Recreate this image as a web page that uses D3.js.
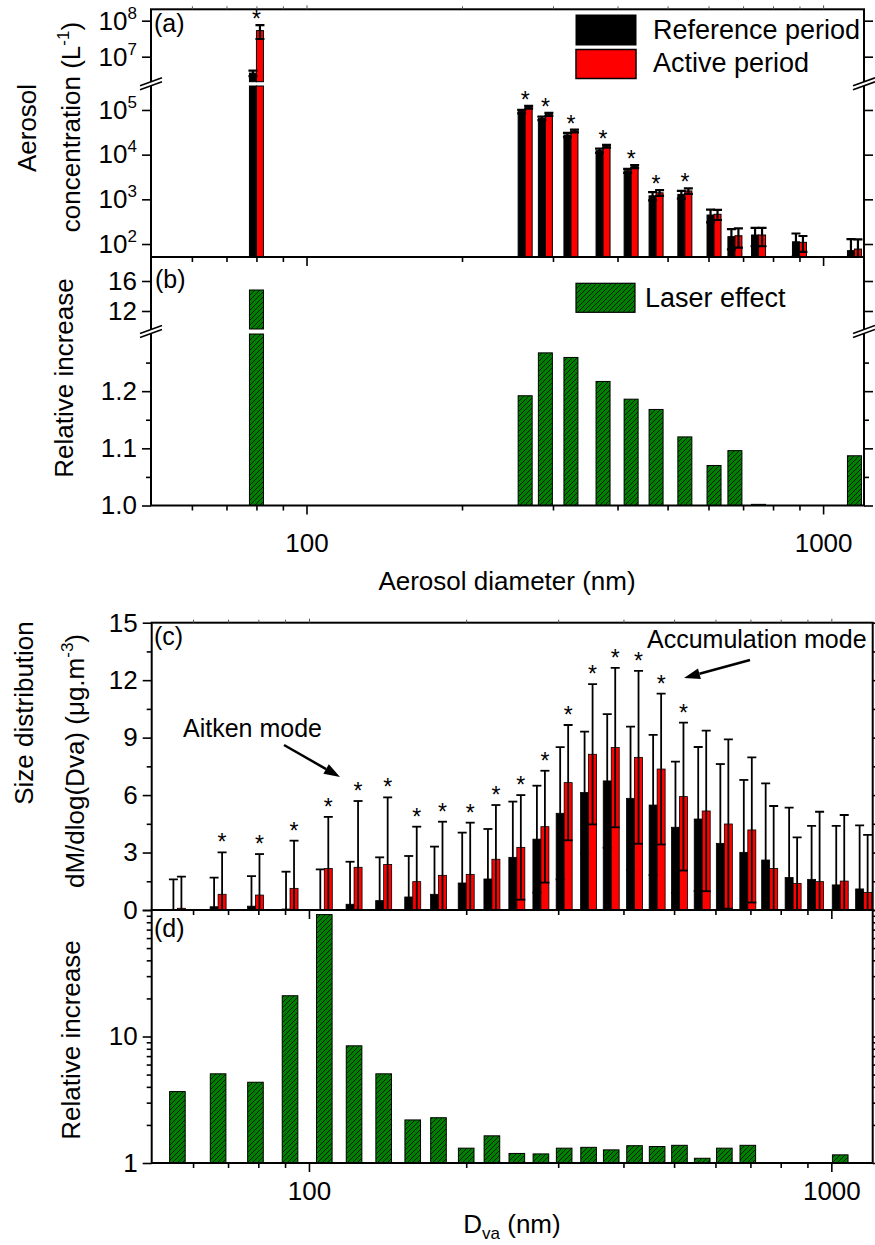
<!DOCTYPE html>
<html><head><meta charset="utf-8">
<script src="https://cdn.jsdelivr.net/npm/d3@7"></script>
<style>body{margin:0;background:#fff} svg text{font-family:"Liberation Sans",Arial,sans-serif;fill:#000}</style>
</head><body>
<svg id="chart" width="875" height="1245"></svg>
<script>
// ---------------- DATA ----------------
// Panels (a)/(b): number concentration by diameter
const sizesA   = [80, 265, 290, 325, 375, 425, 475, 540, 615, 675, 750, 900, 1150];
const refA     = [3.5e6, 9.2e4, 6.5e4, 2.76e4, 1.23e4, 4370, 1200, 1290, 446, 146, 159, 112, 71];
const actA     = [5.3e7, 1.15e5, 8.0e4, 3.4e4, 1.55e4, 5400, 1400, 1540, 462, 153, 159, 109, 77];
const refSdA   = [6e5, 8000, 6000, 3000, 1300, 450, 250, 250, 140, 70, 70, 60, 57];
const actSdA   = [2.2e7, 8000, 6000, 2500, 1100, 400, 200, 220, 117, 70, 70, 42, 50];
const starA    = [true, true, true, true, true, true, true, true, false, false, false, false, false];
const relA     = [14.8, 1.192, 1.267, 1.259, 1.217, 1.186, 1.168, 1.12, 1.07, 1.096, 1.002, null, 1.087];
const yTicksAhi = [1e7, 1e8];
const yTicksAlo = [1e2, 1e3, 1e4, 1e5];
const yTicksBhi = [12, 16];
const yTicksBlo = [1.0, 1.1, 1.2];
const yMinorBlo = [1.05, 1.15, 1.25];

// Panels (c)/(d): mass size distribution
const sizesC  = [56, 67, 79, 92, 107, 122, 139, 158, 177, 200, 224, 250, 278, 308, 343, 379, 420, 464, 512, 566, 624, 692, 762, 845, 933, 1040, 1153];
const refC    = [0.03, 0.17, 0.2, 0.05, 0.02, 0.3, 0.49, 0.68, 0.82, 1.41, 1.62, 2.75, 3.7, 5.05, 6.13, 6.74, 5.83, 5.48, 4.32, 4.75, 3.48, 3.01, 2.61, 1.7, 1.6, 1.31, 1.1];
const actC    = [0.09, 0.82, 0.78, 1.13, 2.17, 2.23, 2.38, 1.48, 1.81, 1.86, 2.65, 3.27, 4.35, 6.65, 8.13, 8.48, 7.97, 7.36, 5.92, 5.17, 4.49, 4.18, 2.17, 1.39, 1.48, 1.51, 0.92];
const refSdC  = [1.57, 1.52, 1.57, 1.95, 2.1, 2.22, 2.26, 2.14, 2.49, 2.63, 2.61, 2.91, 2.79, 3.45, 3.18, 3.49, 3.74, 3.66, 3.43, 3.76, 4.14, 3.78, 4.0, 3.64, 2.79, 3.08, 3.32];
const actSdC  = [1.65, 2.19, 2.14, 2.49, 2.69, 3.46, 3.5, 2.87, 2.8, 2.7, 2.83, 2.73, 2.92, 3.01, 3.66, 4.16, 4.51, 3.94, 3.86, 4.19, 4.42, 3.79, 3.26, 2.4, 3.65, 3.45, 3.0];
const starC   = [false, true, true, true, true, true, true, true, true, true, true, true, true, true, true, true, true, true, true, false, false, false, false, false, false, false, false];
const relC    = [3.67, 5.07, 4.35, 21.0, 92, 8.44, 5.07, 2.19, 2.28, 1.31, 1.64, 1.19, 1.18, 1.31, 1.33, 1.27, 1.37, 1.35, 1.38, 1.09, 1.31, 1.38, null, null, null, 1.16, null];
const yTicksC = [0, 3, 6, 9, 12, 15];
const yMinorC = [1.5, 4.5, 7.5, 10.5, 13.5];
const yTicksD = [1, 10, 100];
const xMajor  = [100, 1000];
const xMinor  = [60, 70, 80, 90, 200, 300, 400, 500, 600, 700, 800, 900];

// ---------------- SETUP ----------------
const svg = d3.select("#chart");
const defs = svg.append("defs");
const pat = defs.append("pattern").attr("id", "hatch").attr("patternUnits", "userSpaceOnUse")
  .attr("width", 5).attr("height", 5);
pat.append("rect").attr("width", 5).attr("height", 5).attr("fill", "#008000");
pat.append("path").attr("d", "M-1,1 L1,-1 M0,5 L5,0 M4,6 L6,4").attr("stroke", "#000").attr("stroke-width", 0.8);
function clip(id, x0, y0, x1, y1) {
  defs.append("clipPath").attr("id", id).append("rect")
    .attr("x", x0).attr("y", y0).attr("width", x1 - x0).attr("height", y1 - y0);
}
const FS = 26;

// ---------- top figure geometry ----------
const L1 = 151, R1 = 864, aTop = 9.3, aBot = 257, bBot = 505.5;
const xTop = d3.scaleLog().domain([50, 1200]).range([L1, R1]);
const yAhi = d3.scaleLog().domain([2.02e6, 2.07e8]).range([81.7, aTop]);
const yAlo = d3.scaleLog().domain([51.2, 3.44e5]).range([aBot, 86]);
const yBhi = d3.scaleLinear().domain([9.6, 19.2]).range([329, aBot]);
const yBlo = d3.scaleLinear().domain([1.0, 1.30]).range([bBot, 334]);
clip("clipA", L1, aTop, R1, aBot);
clip("clipB", L1, aBot, R1, bBot);

// ---------- bottom figure geometry ----------
const L2 = 151.7, R2 = 872.7, cTop = 622.7, cBot = 910, dBot = 1163;
const xBot = d3.scaleLog().domain([50, 1200]).range([L2, R2]);
const yC = d3.scaleLinear().domain([0, 15]).range([cBot, cTop]);
const yD = d3.scaleLog().domain([1, 100]).range([dBot, cBot]);
clip("clipC", L2, cTop, R2, cBot);
clip("clipD", L2, cBot, R2, dBot);

function yMapper(lo, hi) {
  return v => (v <= lo.domain()[1] ? lo(v) : hi(v));
}
function brokenBar(g, x0, w, v, lo, hi, fill, sw) {
  const loMax = lo.domain()[1], hiMin = hi.domain()[0], base = lo.range()[0];
  const vt = Math.min(v, loMax);
  g.append("rect").attr("x", x0).attr("width", w).attr("y", lo(vt)).attr("height", base - lo(vt))
    .attr("fill", fill).attr("stroke", "#000").attr("stroke-width", sw);
  if (v > hiMin) {
    g.append("rect").attr("x", x0).attr("width", w).attr("y", hi(v)).attr("height", hi.range()[0] - hi(v))
      .attr("fill", fill).attr("stroke", "#000").attr("stroke-width", sw);
  }
}
function errBar(g, cx, yLo, yHi, capW, sw) {
  g.append("line").attr("x1", cx).attr("x2", cx).attr("y1", yLo).attr("y2", yHi).attr("stroke", "#000").attr("stroke-width", sw);
  g.append("line").attr("x1", cx - capW / 2).attr("x2", cx + capW / 2).attr("y1", yHi).attr("y2", yHi).attr("stroke", "#000").attr("stroke-width", sw);
  g.append("line").attr("x1", cx - capW / 2).attr("x2", cx + capW / 2).attr("y1", yLo).attr("y2", yLo).attr("stroke", "#000").attr("stroke-width", sw);
}
function star(g, cx, cy, fs) {
  g.append("text").attr("x", cx).attr("y", cy + fs * 0.57).attr("text-anchor", "middle")
    .attr("font-size", fs).text("*");
}
function styleAxis(g, fs) {
  g.select(".domain").remove();
  g.selectAll(".tick line").attr("stroke", "#000").attr("stroke-width", 1.6);
  g.selectAll(".tick text").attr("font-size", fs).attr("fill", "#000")
    .attr("font-family", '"Liberation Sans", Arial, sans-serif');
}
function sup10(g) {
  g.selectAll(".tick text").each(function (d) {
    const e = Math.round(Math.log10(d));
    const t = d3.select(this);
    t.text(null);
    t.append("tspan").text("10");
    t.append("tspan").attr("font-size", 17).attr("dy", -11).text(e);
  });
}
function yAxisSet(x, scale, major, minor, fmt, right, labels) {
  const maj = (right ? d3.axisRight(scale) : d3.axisLeft(scale)).tickValues(major).tickSize(9).tickPadding(5)
    .tickFormat(labels ? fmt : () => "");
  const gM = svg.append("g").attr("transform", `translate(${x},0)`).call(maj);
  styleAxis(gM, FS);
  if (minor && minor.length) {
    const mn = (right ? d3.axisRight(scale) : d3.axisLeft(scale)).tickValues(minor).tickSize(5).tickFormat(() => "");
    const gm = svg.append("g").attr("transform", `translate(${x},0)`).call(mn);
    styleAxis(gm, FS);
  }
  return gM;
}
function xAxisSet(y, scale, labels, pad, up) {
  const mk = s => (up ? d3.axisTop(scale) : d3.axisBottom(scale));
  const gM = svg.append("g").attr("transform", `translate(0,${y})`)
    .call(mk().tickValues(xMajor).tickSize(up ? 4 : 9).tickPadding(pad).tickFormat(labels ? d3.format("d") : () => ""));
  styleAxis(gM, FS);
  const gm = svg.append("g").attr("transform", `translate(0,${y})`)
    .call(mk().tickValues(xMinor).tickSize(up ? 3 : 5).tickFormat(() => ""));
  styleAxis(gm, FS);
  if (up) { gM.selectAll("line").attr("stroke-width", 1).attr("stroke", "#555"); gm.selectAll("line").attr("stroke-width", 1).attr("stroke", "#555"); }
}
function breakMark(x, yb) {
  const g = svg.append("g");
  g.append("polygon").attr("points", `${x - 11},${yb + 2} ${x + 11},${yb - 6} ${x + 11},${yb - 2} ${x - 11},${yb + 6}`)
    .attr("fill", "#fff");
  g.append("line").attr("x1", x - 11).attr("y1", yb + 2).attr("x2", x + 11).attr("y2", yb - 6).attr("stroke", "#000").attr("stroke-width", 1.6);
  g.append("line").attr("x1", x - 11).attr("y1", yb + 6).attr("x2", x + 11).attr("y2", yb - 2).attr("stroke", "#000").attr("stroke-width", 1.6);
}

// ================= PANEL (a) =================
const gA = svg.append("g").attr("clip-path", "url(#clipA)");
const yAm = yMapper(yAlo, yAhi);
const wA = 7;
sizesA.forEach((d, i) => {
  const cx = xTop(d);
  brokenBar(gA, cx - wA, wA, refA[i], yAlo, yAhi, "#000", 1);
  brokenBar(gA, cx, wA, actA[i], yAlo, yAhi, "#ff0000", 1);
});
sizesA.forEach((d, i) => {
  const cx = xTop(d);
  [[cx - wA / 2, refA[i], refSdA[i]], [cx + wA / 2, actA[i], actSdA[i]]].forEach(([x, v, s]) => {
    const lo = v - s > yAlo.domain()[0] ? yAm(v - s) : aBot + 20;
    errBar(gA, x, lo, yAm(v + s), 9, 2.2);
  });
  if (starA[i]) star(svg, cx, yAm(actA[i] + actSdA[i]) - 11, 23);
});
svg.append("rect").attr("x", L1).attr("y", aTop).attr("width", R1 - L1).attr("height", aBot - aTop)
  .attr("fill", "none").attr("stroke", "#000").attr("stroke-width", 2);
const gAy1 = yAxisSet(L1, yAhi, yTicksAhi, [], null, false, true); sup10(gAy1);
const gAy2 = yAxisSet(L1, yAlo, yTicksAlo, [], null, false, true); sup10(gAy2);
yAxisSet(R1, yAhi, yTicksAhi, [], null, true, false);
yAxisSet(R1, yAlo, yTicksAlo, [], null, true, false);
xAxisSet(aBot, xTop, false, 0, false);
xAxisSet(aTop, xTop, false, 0, true);
breakMark(L1, 83.8); breakMark(R1, 83.8);

// legend (a)
svg.append("rect").attr("x", 576).attr("y", 15).attr("width", 60).attr("height", 30).attr("fill", "#000").attr("stroke", "#000");
svg.append("rect").attr("x", 576).attr("y", 49.5).attr("width", 60).attr("height", 29).attr("fill", "#ff0000").attr("stroke", "#000").attr("stroke-width", 1.5);
svg.append("text").attr("x", 653).attr("y", 39).attr("font-size", 27).text("Reference period");
svg.append("text").attr("x", 653).attr("y", 72).attr("font-size", 27).text("Active period");
svg.append("text").attr("x", 154).attr("y", 32).attr("font-size", 25).text("(a)");

// ================= PANEL (b) =================
const gB = svg.append("g").attr("clip-path", "url(#clipB)");
sizesA.forEach((d, i) => {
  if (relA[i] == null) return;
  const cx = xTop(d);
  brokenBar(gB, cx - 7, 14, relA[i], yBlo, yBhi, "url(#hatch)", 1);
});
svg.append("rect").attr("x", L1).attr("y", aBot).attr("width", R1 - L1).attr("height", bBot - aBot)
  .attr("fill", "none").attr("stroke", "#000").attr("stroke-width", 2);
yAxisSet(L1, yBhi, yTicksBhi, [], d3.format("d"), false, true);
yAxisSet(L1, yBlo, yTicksBlo, yMinorBlo, d3.format(".1f"), false, true);
yAxisSet(R1, yBhi, yTicksBhi, [], null, true, false);
yAxisSet(R1, yBlo, yTicksBlo, yMinorBlo, null, true, false);
xAxisSet(bBot, xTop, true, 19, false);
breakMark(L1, 331.5); breakMark(R1, 331.5);
svg.append("rect").attr("x", 576).attr("y", 283.3).attr("width", 59).attr("height", 29).attr("fill", "url(#hatch)").attr("stroke", "#000").attr("stroke-width", 1.2);
svg.append("text").attr("x", 645).attr("y", 306.7).attr("font-size", 27).text("Laser effect");
svg.append("text").attr("x", 155).attr("y", 288).attr("font-size", 25).text("(b)");

// axis titles top figure
svg.append("text").attr("x", 507).attr("y", 590).attr("text-anchor", "middle").attr("font-size", FS).text("Aerosol diameter (nm)");
svg.append("text").attr("transform", "translate(36,128) rotate(-90)").attr("text-anchor", "middle").attr("font-size", FS).text("Aerosol");
const tConc = svg.append("text").attr("transform", "translate(80,127) rotate(-90)").attr("text-anchor", "middle").attr("font-size", FS);
tConc.append("tspan").text("concentration (L");
tConc.append("tspan").attr("font-size", 17).attr("dy", -11).text("-1");
tConc.append("tspan").attr("dy", 11).text(")");
svg.append("text").attr("transform", "translate(73,378) rotate(-90)").attr("text-anchor", "middle").attr("font-size", FS).text("Relative increase");

// ================= PANEL (c) =================
const gC = svg.append("g").attr("clip-path", "url(#clipC)");
const wC = 8;
sizesC.forEach((d, i) => {
  const cx = xBot(d);
  gC.append("rect").attr("x", cx - wC).attr("width", wC).attr("y", yC(refC[i])).attr("height", cBot - yC(refC[i]))
    .attr("fill", "#000").attr("stroke", "#000").attr("stroke-width", 0.8);
  gC.append("rect").attr("x", cx).attr("width", wC).attr("y", yC(actC[i])).attr("height", cBot - yC(actC[i]))
    .attr("fill", "#ff0000").attr("stroke", "#000").attr("stroke-width", 0.8);
});
sizesC.forEach((d, i) => {
  const cx = xBot(d);
  errBar(gC, cx - wC / 2, yC(refC[i] - refSdC[i]), yC(refC[i] + refSdC[i]), 9, 1.8);
  errBar(gC, cx + wC / 2, yC(actC[i] - actSdC[i]), yC(actC[i] + actSdC[i]), 9, 1.8);
  if (starC[i]) star(svg, cx + wC / 2, yC(actC[i] + actSdC[i]) - 15, 23);
});
svg.append("rect").attr("x", L2).attr("y", cTop).attr("width", R2 - L2).attr("height", cBot - cTop)
  .attr("fill", "none").attr("stroke", "#000").attr("stroke-width", 2);
yAxisSet(L2, yC, yTicksC, yMinorC, d3.format("d"), false, true);
yAxisSet(R2, yC, yTicksC, yMinorC, null, true, false);
xAxisSet(cBot, xBot, false, 0, false);
xAxisSet(cTop, xBot, false, 0, true);
svg.append("text").attr("x", 154).attr("y", 645).attr("font-size", 25).text("(c)");

// annotations
function arrow(x1, y1, x2, y2) {
  const a = Math.atan2(y2 - y1, x2 - x1), hl = 16, hw = 5.5;
  const bx = x2 - hl * Math.cos(a), by = y2 - hl * Math.sin(a);
  svg.append("line").attr("x1", x1).attr("y1", y1).attr("x2", bx).attr("y2", by).attr("stroke", "#000").attr("stroke-width", 2.5);
  svg.append("polygon").attr("points",
    `${x2},${y2} ${bx + hw * Math.sin(a)},${by - hw * Math.cos(a)} ${bx - hw * Math.sin(a)},${by + hw * Math.cos(a)}`)
    .attr("fill", "#000");
}
svg.append("text").attr("x", 183).attr("y", 737).attr("font-size", 25).text("Aitken mode");
arrow(284, 745, 340, 777);
svg.append("text").attr("x", 647).attr("y", 648).attr("font-size", 25).text("Accumulation mode");
arrow(750, 660, 684, 678);

// ================= PANEL (d) =================
const gD = svg.append("g").attr("clip-path", "url(#clipD)");
sizesC.forEach((d, i) => {
  if (relC[i] == null) return;
  const cx = xBot(d);
  gD.append("rect").attr("x", cx - 7.8).attr("width", 15.6).attr("y", yD(relC[i])).attr("height", dBot - yD(relC[i]))
    .attr("fill", "url(#hatch)").attr("stroke", "#000").attr("stroke-width", 1);
});
svg.append("rect").attr("x", L2).attr("y", cBot).attr("width", R2 - L2).attr("height", dBot - cBot)
  .attr("fill", "none").attr("stroke", "#000").attr("stroke-width", 2);
const minorD = [2,3,4,5,6,7,8,9,20,30,40,50,60,70,80,90];
const gDy = yAxisSet(L2, yD, yTicksD, minorD, d3.format("d"), false, true);
gDy.selectAll(".tick text").filter(d => d === 100).remove();
yAxisSet(R2, yD, yTicksD, minorD, null, true, false);
xAxisSet(dBot, xBot, true, 10, false);
svg.append("text").attr("x", 154).attr("y", 937).attr("font-size", 25).text("(d)");

// axis titles bottom figure
const tD = svg.append("text").attr("x", 512).attr("y", 1233).attr("text-anchor", "middle").attr("font-size", FS);
tD.append("tspan").text("D");
tD.append("tspan").attr("font-size", 17).attr("dy", 6).text("va");
tD.append("tspan").attr("dy", -6).text(" (nm)");
svg.append("text").attr("transform", "translate(33,713) rotate(-90)").attr("text-anchor", "middle").attr("font-size", FS).text("Size distribution");
const tDM = svg.append("text").attr("transform", "translate(84,761) rotate(-90)").attr("text-anchor", "middle").attr("font-size", FS);
tDM.append("tspan").text("dM/dlog(Dva) (μg.m");
tDM.append("tspan").attr("font-size", 17).attr("dy", -11).text("-3");
tDM.append("tspan").attr("dy", 11).text(")");
svg.append("text").attr("transform", "translate(80,1040) rotate(-90)").attr("text-anchor", "middle").attr("font-size", FS).text("Relative increase");
</script>
</body></html>
